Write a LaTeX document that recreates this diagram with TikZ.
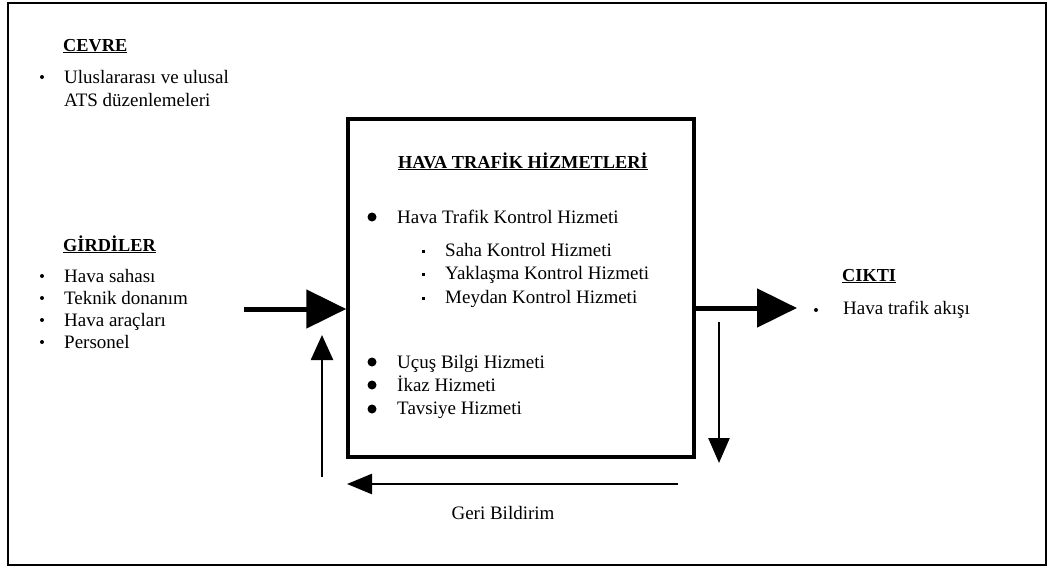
\documentclass[tikz,border=0pt]{standalone}
\usepackage{fontspec}
\setmainfont{Liberation Serif}
\usetikzlibrary{arrows.meta}
\begin{document}
\begin{tikzpicture}[x=1pt,y=-1pt,
  txt/.style={anchor=base west, inner sep=0pt, font=\fontsize{19}{22}\selectfont},
  head/.style={txt, font=\fontsize{18.3}{22}\selectfont\bfseries},
  dot/.style={circle, fill=black, inner sep=0pt, minimum size=4pt},
  bigdot/.style={circle, fill=black, inner sep=0pt, minimum size=9pt},
  subdot/.style={rectangle, fill=black, inner sep=0pt, minimum size=3pt},
  flow/.style={line width=5pt, -{Triangle[length=40pt,width=38pt]}},
  back/.style={line width=2.5pt, -{Triangle[length=25pt,width=21pt]}}
]
\useasboundingbox (0,0) rectangle (1049,568);
\draw[line width=2pt] (8,3) rectangle (1046,565);

% central service box
\node[draw, line width=3.5pt, minimum width=346pt, minimum height=338pt, inner sep=0pt] (box) at (521,288) {};

% environment
\node[head] (cevre) at (63,51) {\underline{CEVRE}};
\node[dot] (c1) at (42,77) {};
\node[txt] (c1t) at (64,83) {Uluslararası ve ulusal};
\node[txt] (c2t) at (64,106) {ATS düzenlemeleri};

% inputs
\node[head] (girdi) at (63,251) {\underline{GİRDİLER}};
\node[dot] (g1) at (42,276) {};
\node[txt] (g1t) at (64,282) {Hava sahası};
\node[dot] (g2) at (42,298) {};
\node[txt] (g2t) at (64,304) {Teknik donanım};
\node[dot] (g3) at (42,320) {};
\node[txt] (g3t) at (64,326) {Hava araçları};
\node[dot] (g4) at (42,342) {};
\node[txt] (g4t) at (64,348) {Personel};

% services
\node[head] (ath) at (398,168) {\underline{HAVA TRAFİK HİZMETLERİ}};
\node[bigdot] (s1) at (372,217) {};
\node[txt] (s1t) at (397,223) {Hava Trafik Kontrol Hizmeti};
\node[subdot] (a1) at (423,251) {};
\node[txt] (a1t) at (445,256) {Saha Kontrol Hizmeti};
\node[subdot] (a2) at (423,274) {};
\node[txt] (a2t) at (445,279) {Yaklaşma Kontrol Hizmeti};
\node[subdot] (a3) at (423,298) {};
\node[txt] (a3t) at (445,303) {Meydan Kontrol Hizmeti};
\node[bigdot] (s2) at (372,362) {};
\node[txt] (s2t) at (397,368) {Uçuş Bilgi Hizmeti};
\node[bigdot] (s3) at (372,385) {};
\node[txt] (s3t) at (397,391) {İkaz Hizmeti};
\node[bigdot] (s4) at (372,409) {};
\node[txt] (s4t) at (397,414) {Tavsiye Hizmeti};

% output
\node[head] (cikti) at (842,281) {\underline{CIKTI}};
\node[dot] (o1) at (816,310) {};
\node[txt] (o1t) at (843,314) {Hava trafik akışı};

% feedback label
\node[txt, anchor=base] (geri) at (503,519) {Geri Bildirim};

% flow arrows
\coordinate (inS) at (244,309);
\draw[flow] (inS) -- (inS -| box.west);
\coordinate (outE) at (797,308);
\draw[flow] (outE -| box.east) -- (outE);

% feedback loop
\coordinate (fbA) at (719,322);
\coordinate (fbB) at (719,463);
\coordinate (fbC) at (678,484);
\coordinate (fbD) at (347,484);
\coordinate (fbE) at (322,477);
\coordinate (fbF) at (322,335);
\draw[back] (fbA) -- (fbB);
\draw[back, -{Triangle[length=25pt,width=20pt]}] (fbC) -- (fbD);
\draw[back, -{Triangle[length=25pt,width=22pt]}] (fbE) -- (fbF);
\end{tikzpicture}
\end{document}
